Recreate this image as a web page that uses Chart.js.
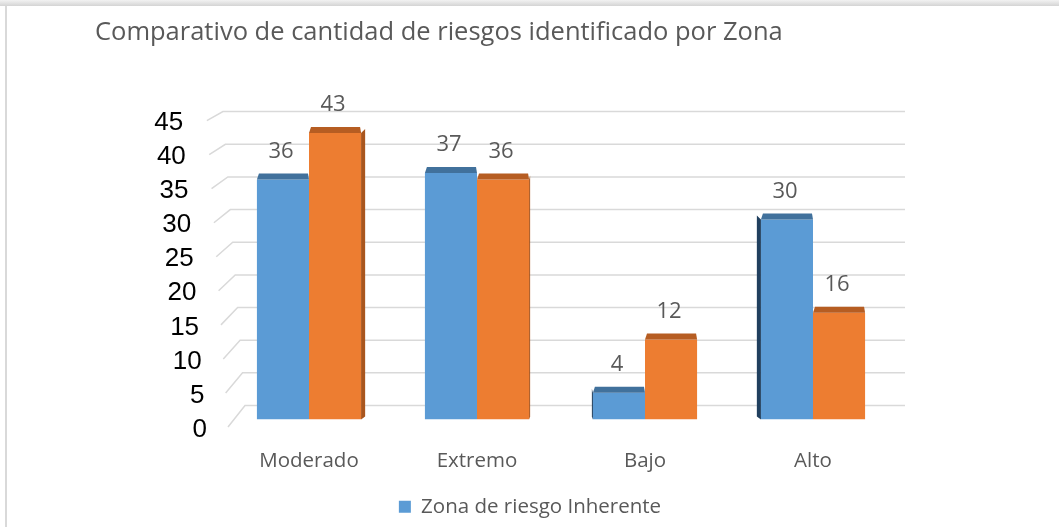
<!DOCTYPE html>
<html>
<head>
<meta charset="utf-8">
<script src="https://cdn.jsdelivr.net/npm/chart.js@4"></script>
<style>
  html, body { margin: 0; padding: 0; background: #fff; }
  #wrap { position: relative; width: 1059px; height: 527px; overflow: hidden; }
  #topEdge { position: absolute; left: 0; top: 0; width: 100%; height: 6px; background: linear-gradient(#f2f2f2, #d4d4d4); }
  #leftEdge { position: absolute; left: 5px; top: 6px; width: 2px; bottom: 0; background: #d9d9d9; }
  canvas { position: absolute; left: 0; top: 0; }
</style>
</head>
<body>
<div id="wrap">
  <div id="topEdge"></div>
  <div id="leftEdge"></div>
  <canvas id="riskChart" width="1059" height="527"></canvas>
</div>
<script>
// chart data
const categories = ["Moderado", "Extremo", "Bajo", "Alto"];
const seriesNames = ["Zona de riesgo Inherente", "Zona de riesgo Residual"];
const inherente = [36, 37, 4, 30];
const residual = [43, 36, 12, 16];
const yMax = 45;
const yStep = 5;

const grey = "#595959";

// back wall grid lines + slanted y labels (fake 3D look)
const wallPlugin = {
  id: "wall",
  beforeDatasetsDraw(chart) {
    const { ctx, chartArea, scales: { y } } = chart;
    const base = y.getPixelForValue(0);
    ctx.save();
    ctx.strokeStyle = "#d9d9d9";
    ctx.lineWidth = 1.5;
    ctx.font = "26px 'Liberation Sans', Arial, sans-serif";
    ctx.fillStyle = "#000";
    ctx.textAlign = "right";
    ctx.textBaseline = "middle";
    y.ticks.forEach((t) => {
      const v = t.value;
      const py = y.getPixelForValue(v);
      const backY = base - 14 - (base - py) * 0.98;
      const backX = chartArea.left + 20 - v * 0.49;
      const labY = py + 7.5 - v * 0.145;
      const frontX = chartArea.left + 3 - v * 0.47;
      ctx.beginPath();
      ctx.moveTo(frontX, labY);
      ctx.lineTo(backX, backY);
      ctx.lineTo(chartArea.right + 8, backY);
      ctx.stroke();
      ctx.fillText(String(v), chartArea.left - 18 - v * 0.53, labY + 2.5);
    });
    ctx.restore();
  },
  afterDatasetsDraw(chart) {
    const { ctx, chartArea } = chart;
    const cx = (chartArea.left + chartArea.right) / 2;
    ctx.save();
    chart.data.datasets.forEach((ds, i) => {
      const meta = chart.getDatasetMeta(i);
      meta.data.forEach((bar, j) => {
        const { x, y, width } = bar.getProps(["x", "y", "width"], true);
        const l = x - width / 2;
        const r = x + width / 2;
        // top face
        ctx.fillStyle = ds.topColor;
        ctx.beginPath();
        ctx.moveTo(l, y);
        ctx.lineTo(r, y);
        ctx.lineTo(r - 1, y - 6);
        ctx.lineTo(l + 2, y - 6);
        ctx.closePath();
        ctx.fill();
        // visible side face on the outer bars
        const side = Math.abs(x - cx) * 0.018;
        const bottom = chartArea.bottom;
        ctx.fillStyle = ds.sideColor;
        if (i === 1 && x < cx) {
          ctx.beginPath();
          ctx.moveTo(r, y);
          ctx.lineTo(r + side, y - 4);
          ctx.lineTo(r + side, bottom - 3);
          ctx.lineTo(r, bottom);
          ctx.closePath();
          ctx.fill();
        } else if (i === 0 && x > cx) {
          ctx.beginPath();
          ctx.moveTo(l, y);
          ctx.lineTo(l - side, y - 4);
          ctx.lineTo(l - side, bottom - 3);
          ctx.lineTo(l, bottom);
          ctx.closePath();
          ctx.fill();
        }
        // value label
        ctx.fillStyle = grey;
        ctx.font = "22px 'Open Sans', sans-serif";
        ctx.textAlign = "center";
        ctx.textBaseline = "middle";
        ctx.fillText(String(ds.data[j]), x - 2, y - 28);
      });
    });
    ctx.restore();
  }
};

const ctx = document.getElementById("riskChart").getContext("2d");

new Chart(ctx, {
  type: "bar",
  data: {
    labels: categories,
    datasets: [
      {
        label: seriesNames[0],
        data: inherente,
        backgroundColor: "#5b9bd5",
        topColor: "#41719c",
        sideColor: "#203f5e",
        borderWidth: 0,
        categoryPercentage: 0.62,
        barPercentage: 1.0
      },
      {
        label: seriesNames[1],
        data: residual,
        backgroundColor: "#ed7d31",
        topColor: "#b65d22",
        sideColor: "#a9561e",
        borderWidth: 0,
        categoryPercentage: 0.62,
        barPercentage: 1.0
      }
    ]
  },
  options: {
    responsive: false,
    animation: false,
    devicePixelRatio: 1,
    layout: { padding: { left: 95, right: 94, top: 0, bottom: 0 } },
    scales: {
      x: {
        grid: { display: false, drawTicks: false },
        border: { display: false },
        ticks: {
          padding: 29,
          color: grey,
          font: { family: "'Open Sans', sans-serif", size: 20.5 }
        },
        afterFit(scale) { scale.height = 68; }
      },
      y: {
        min: 0,
        max: yMax,
        ticks: { stepSize: yStep, display: false },
        grid: { display: false, drawTicks: false },
        border: { display: false },
        afterFit(scale) { scale.width = 130; }
      },
      yRight: {
        position: "right",
        display: true,
        ticks: { display: false },
        grid: { display: false, drawTicks: false },
        border: { display: false },
        afterFit(scale) { scale.width = 68; }
      }
    },
    plugins: {
      title: {
        display: true,
        text: "Comparativo de cantidad de riesgos identificado por Zona",
        align: "start",
        color: grey,
        font: { family: "'Open Sans', sans-serif", size: 25.5, weight: "normal" },
        padding: { top: 17, bottom: 72 }
      },
      legend: {
        position: "bottom",
        labels: {
          color: grey,
          font: { family: "'Open Sans', sans-serif", size: 20.5 },
          boxWidth: 12,
          boxHeight: 12,
          padding: 9,
          filter: (item) => item.datasetIndex === 0
        }
      },
      tooltip: { enabled: false }
    }
  },
  plugins: [wallPlugin]
});
</script>
</body>
</html>
